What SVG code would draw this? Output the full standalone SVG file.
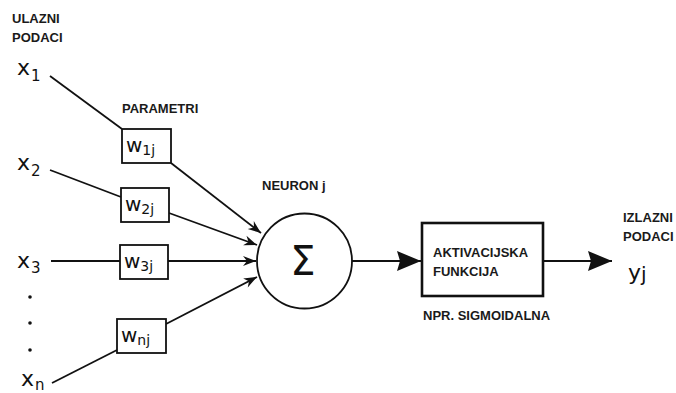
<svg xmlns="http://www.w3.org/2000/svg" width="676" height="393" viewBox="0 0 676 393">
<style>
.lbl{font-family:"Liberation Sans",Arial,sans-serif;font-weight:bold;font-size:13px;fill:#1a1a1a}
.var{font-family:"DejaVu Sans",sans-serif;font-size:22px;fill:#111}
.sub{font-family:"DejaVu Sans",sans-serif;font-size:15px;fill:#111}
.wv{font-family:"DejaVu Sans",sans-serif;font-size:20px;fill:#111}
.ws{font-family:"DejaVu Sans",sans-serif;font-size:14px;fill:#111}
.box{fill:#fff;stroke:#111;stroke-width:1.8}
.ln{fill:none;stroke:#111;stroke-width:1.8}
</style>
<defs>
<marker id="sm" markerUnits="userSpaceOnUse" markerWidth="16" markerHeight="12" viewBox="-14 -6 16 12" refX="0" refY="0" orient="auto">
<path d="M0,0 L-13,-5 L-9,0 L-13,5 Z" fill="#111"/>
</marker>
<marker id="big" markerUnits="userSpaceOnUse" markerWidth="26" markerHeight="22" viewBox="-25 -11 26 22" refX="0" refY="0" orient="auto">
<path d="M0,0 L-24,-10 L-21,0 L-24,10 Z" fill="#111"/>
</marker>
</defs>
<rect width="676" height="393" fill="#fff"/>

<g id="connectors">
<line class="ln" x1="50" y1="76" x2="122" y2="129"/>
<line class="ln" x1="50" y1="170" x2="121" y2="197"/>
<line class="ln" x1="51" y1="261" x2="120" y2="261"/>
<line class="ln" x1="52" y1="383" x2="117" y2="350"/>
<line class="ln" x1="171" y1="163" x2="261" y2="233" marker-end="url(#sm)"/>
<line class="ln" x1="169" y1="213" x2="257" y2="245" marker-end="url(#sm)"/>
<line class="ln" x1="168" y1="261" x2="256" y2="261" marker-end="url(#sm)"/>
<line class="ln" x1="166" y1="324" x2="257" y2="277" marker-end="url(#sm)"/>
<line class="ln" x1="352" y1="261" x2="421" y2="261" marker-end="url(#big)"/>
<line class="ln" x1="543" y1="261" x2="612" y2="261" marker-end="url(#big)"/>
</g>

<g id="inputs-label">
<text class="lbl" x="12" y="23">ULAZNI</text>
<text class="lbl" x="12" y="42">PODACI</text>
</g>
<g id="x1"><text class="var" x="17" y="75">x<tspan class="sub" dx="1" dy="6">1</tspan></text></g>
<g id="x2"><text class="var" x="17" y="170">x<tspan class="sub" dx="1" dy="6">2</tspan></text></g>
<g id="x3"><text class="var" x="17" y="268">x<tspan class="sub" dx="1" dy="5">3</tspan></text></g>
<g id="dots">
<circle cx="30" cy="297" r="1.8" fill="#111"/>
<circle cx="30" cy="323" r="1.8" fill="#111"/>
<circle cx="30" cy="350" r="1.8" fill="#111"/>
</g>
<g id="xn"><text class="var" x="21" y="386">x<tspan class="sub" dx="1" dy="4">n</tspan></text></g>

<g id="params-label"><text class="lbl" x="122" y="113">PARAMETRI</text></g>
<g id="w1j"><rect class="box" x="122" y="129" width="49" height="34"/><text class="wv" x="126" y="152">w<tspan class="ws" dy="3">1j</tspan></text></g>
<g id="w2j"><rect class="box" x="121" y="188" width="48" height="34"/><text class="wv" x="125" y="211">w<tspan class="ws" dy="3">2j</tspan></text></g>
<g id="w3j"><rect class="box" x="120" y="245" width="48" height="34"/><text class="wv" x="124" y="268">w<tspan class="ws" dy="3">3j</tspan></text></g>
<g id="wnj"><rect class="box" x="117" y="319" width="49" height="34"/><text class="wv" x="121" y="342">w<tspan class="ws" dy="3">nj</tspan></text></g>

<g id="neuron">
<text class="lbl" x="262" y="190">NEURON j</text>
<circle cx="304.5" cy="261" r="47.5" fill="#fff" stroke="#111" stroke-width="1.8"/>
<text x="303" y="275" text-anchor="middle" font-family="DejaVu Sans, sans-serif" font-size="40" fill="#111">Σ</text>
</g>

<g id="activation">
<rect x="422" y="223" width="121" height="73" fill="#fff" stroke="#111" stroke-width="2.6"/>
<text class="lbl" x="433" y="257">AKTIVACIJSKA</text>
<text class="lbl" x="433" y="276">FUNKCIJA</text>
<text class="lbl" x="423" y="320">NPR. SIGMOIDALNA</text>
</g>

<g id="output">
<text class="lbl" x="623" y="222">IZLAZNI</text>
<text class="lbl" x="623" y="241">PODACI</text>
<text class="var" x="628" y="280" font-size="25">y<tspan font-size="20" dy="1">j</tspan></text>
</g>
</svg>
